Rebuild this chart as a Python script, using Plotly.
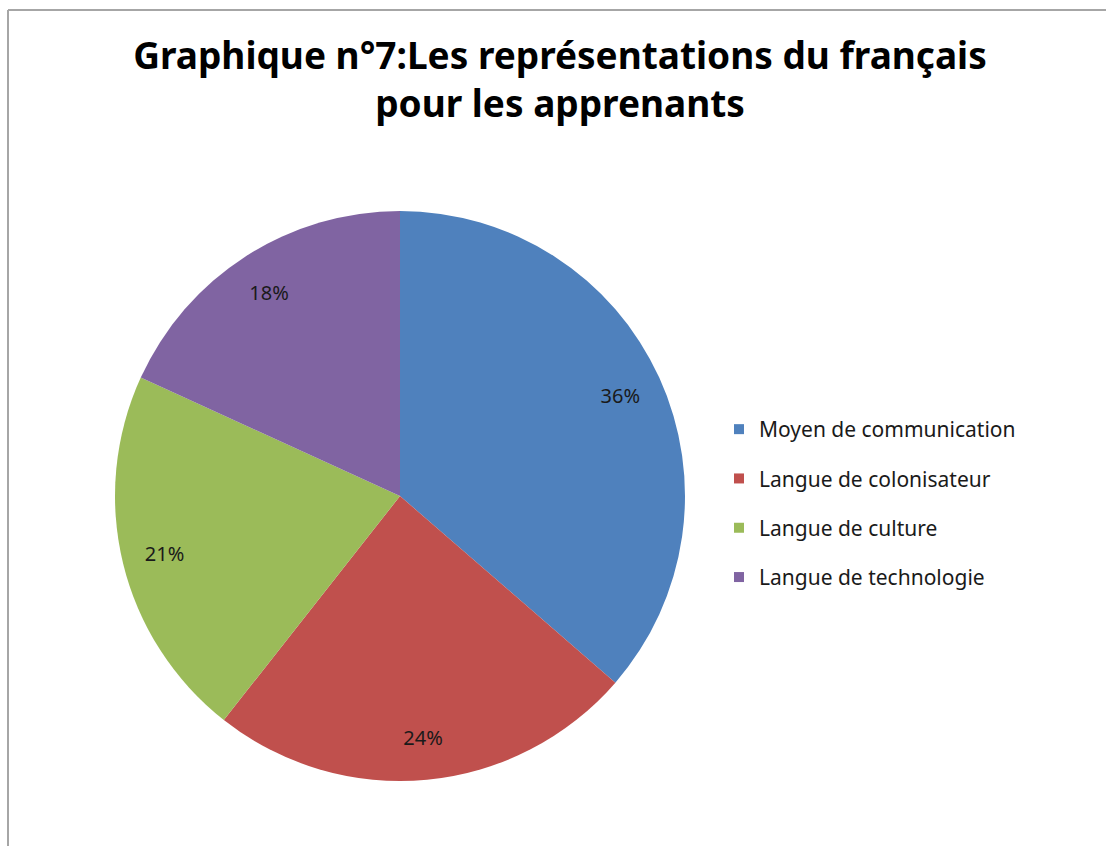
import plotly.graph_objects as go

# --- Data ----------------------------------------------------------------------

labels = [
    "Moyen de communication",
    "Langue de colonisateur",
    "Langue de culture",
    "Langue de technologie",
]
values = [36, 24, 21, 18]
colors = ["#4F81BD", "#C0504D", "#9BBB59", "#8064A2"]

TITLE = "Graphique n°7:Les représentations du français<br>pour les apprenants"

FONT = "Noto Sans, Open Sans, sans-serif"
W, H = 1106, 846
# pie box in pixels: centre (400, 496), radius 285
pie_x = [(400 - 285) / W, (400 + 285) / W]
pie_y = [1 - (496 + 285) / H, 1 - (496 - 285) / H]

fig = go.Figure()

# the filled pie, no text
fig.add_trace(go.Pie(
    labels=labels, values=values, sort=False, direction="clockwise",
    rotation=0, marker=dict(colors=colors, line=dict(width=0)),
    textinfo="none", showlegend=False, domain=dict(x=pie_x, y=pie_y),
    hovertemplate="%{label}: %{percent:.0%}<extra></extra>",
))

# transparent ring on top, only to carry the labels near the rim
fig.add_trace(go.Pie(
    labels=labels, values=values, sort=False, direction="clockwise",
    rotation=0, hole=0.70,
    marker=dict(colors=["rgba(0,0,0,0)"] * 4, line=dict(width=0)),
    texttemplate="%{percent:.0%}", textposition="inside",
    insidetextorientation="horizontal",
    textfont=dict(family=FONT, size=20, color="#1a1a1a"),
    showlegend=False, hoverinfo="skip", domain=dict(x=pie_x, y=pie_y),
))

# legend entries (separate groups so the rows can be spaced out)
for lab, col in zip(labels, colors):
    fig.add_trace(go.Scatter(
        x=[None], y=[None], mode="markers", name=lab, legendgroup=lab,
        marker=dict(symbol="square", size=10, color=col),
    ))

# chart frame (only left and top edges visible in the crop)
fig.add_shape(type="line", xref="paper", yref="paper",
              x0=8 / W, x1=8 / W, y0=-0.05, y1=1 - 10 / H,
              line=dict(color="#A6A6A6", width=2))
fig.add_shape(type="line", xref="paper", yref="paper",
              x0=8 / W, x1=1.05, y0=1 - 10 / H, y1=1 - 10 / H,
              line=dict(color="#A6A6A6", width=2))

fig.update_layout(
    width=W, height=H,
    margin=dict(l=0, r=0, t=0, b=0),
    paper_bgcolor="white", plot_bgcolor="white",
    title=dict(
        text=TITLE, x=560 / W, xanchor="center", y=1 - 69 / H, yanchor="top",
        font=dict(family=FONT, size=37, color="#000000", weight="bold"),
    ),
    xaxis=dict(visible=False), yaxis=dict(visible=False),
    showlegend=True,
    legend=dict(
        x=719 / W, y=1 - 409 / H, xanchor="left", yanchor="top",
        font=dict(family=FONT, size=21, color="#1a1a1a"),
        tracegroupgap=19, bgcolor="rgba(0,0,0,0)",
    ),
)

fig.write_html("out.html", config=dict(displayModeBar=False),
               post_script="document.body.style.margin='0';")
